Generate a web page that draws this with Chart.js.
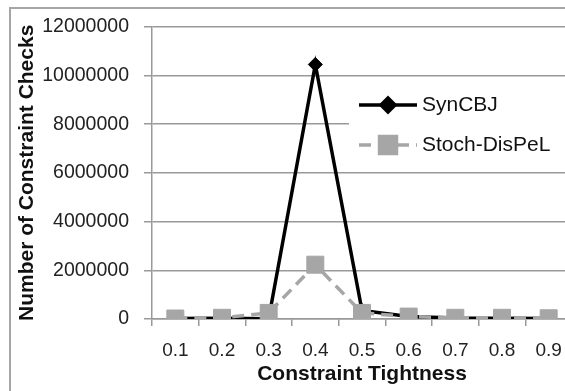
<!DOCTYPE html>
<html>
<head>
<meta charset="utf-8">
<script src="https://cdn.jsdelivr.net/npm/chart.js@4.4.1/dist/chart.umd.min.js"></script>
<style>
  html, body { margin: 0; padding: 0; background: #fff; overflow: hidden; }
  #wrap { position: relative; width: 600px; height: 391px; }
  #frame { position: absolute; left: 9px; top: 7px; width: 600px; height: 400px;
           border-left: 2px solid #a6a6a6; border-top: 2px solid #a6a6a6; }
  canvas { position: absolute; left: 0; top: 0; }
</style>
</head>
<body>
<div id="wrap">
  <div id="frame"></div>
  <canvas id="tightChart" width="600" height="391"></canvas>
</div>
<script>
const tightness = ['0.1', '0.2', '0.3', '0.4', '0.5', '0.6', '0.7', '0.8', '0.9'];
const synCBJ = [20000, 30000, 10000, 10450000, 350000, 100000, 40000, 30000, 20000];
const stochDisPeL = [20000, 50000, 250000, 2230000, 250000, 100000, 50000, 50000, 30000];
const yTicks = [0, 2000000, 4000000, 6000000, 8000000, 10000000, 12000000];

const FONT = "'Liberation Sans', Arial, sans-serif";

// legend drawn inside the plot, on a white box, like the original
const boxLegend = {
    id: 'boxLegend',
    afterDraw(chart) {
        const ctx = chart.ctx;
        ctx.save();
        ctx.fillStyle = '#fff';
        ctx.fillRect(349, 86, 260, 78);
        const rows = [105, 145];
        chart.data.datasets.forEach((ds, i) => {
            const y = rows[i];
            ctx.strokeStyle = ds.borderColor;
            ctx.lineWidth = ds.borderWidth;
            ctx.setLineDash(ds.borderDash || []);
            ctx.beginPath();
            ctx.moveTo(359, y);
            ctx.lineTo(417, y);
            ctx.stroke();
            ctx.setLineDash([]);
            Chart.helpers.drawPoint(ctx, {
                pointStyle: ds.pointStyle,
                radius: ds.pointRadius,
                borderWidth: 1,
                rotation: 0
            }, 388, y);
            ctx.fillStyle = ds.pointBackgroundColor;
            ctx.strokeStyle = ds.pointBorderColor;
            ctx.fill();
            ctx.fillStyle = '#111';
            ctx.font = '21px ' + FONT;
            ctx.textBaseline = 'middle';
            ctx.textAlign = 'left';
            ctx.fillText(ds.label, 422, y);
        });
        ctx.restore();
    }
};

new Chart(document.getElementById('tightChart'), {
    type: 'line',
    data: {
        labels: tightness,
        datasets: [
            {
                label: 'SynCBJ',
                data: synCBJ,
                borderColor: '#000',
                borderWidth: 3.5,
                pointStyle: 'rectRot',
                pointRadius: 7,
                pointBackgroundColor: '#000',
                pointBorderColor: '#000',
                pointBorderWidth: 1,
                tension: 0,
                order: 2
            },
            {
                label: 'Stoch-DisPeL',
                data: stochDisPeL,
                borderColor: '#a6a6a6',
                borderWidth: 3.5,
                borderDash: [12, 7],
                pointStyle: 'rect',
                pointRadius: 12,
                pointBackgroundColor: '#a6a6a6',
                pointBorderColor: '#a6a6a6',
                pointBorderWidth: 1,
                tension: 0,
                order: 1
            }
        ]
    },
    options: {
        responsive: false,
        animation: false,
        layout: { padding: { top: 20, right: 28, bottom: 0, left: 0 } },
        plugins: {
            legend: { display: false },
            tooltip: { enabled: false }
        },
        scales: {
            x: {
                offset: true,
                grid: { drawOnChartArea: false, drawTicks: true, tickLength: 7, color: '#999', lineWidth: 1.5, offset: true },
                border: { color: '#999', width: 1.5 },
                ticks: { color: '#222', font: { family: FONT, size: 19 }, padding: 13, maxRotation: 0 },
                title: {
                    display: true,
                    text: 'Constraint Tightness',
                    color: '#111',
                    font: { family: FONT, size: 21, weight: 'bold' },
                    padding: { top: 0, bottom: 4 }
                },
                afterFit(scale) { scale.height = 72; }
            },
            y: {
                min: 0,
                max: 12000000,
                afterBuildTicks(scale) { scale.ticks = yTicks.map(v => ({ value: v })); },
                grid: { color: '#999', lineWidth: 1.5, tickLength: 8 },
                border: { color: '#999', width: 1.5 },
                ticks: { color: '#222', font: { family: FONT, size: 19.5 }, padding: 15, callback: v => String(v) },
                title: {
                    display: true,
                    text: 'Number of Constraint Checks',
                    color: '#111',
                    font: { family: FONT, size: 21, weight: 'bold' },
                    padding: { top: 15, bottom: 0 }
                },
                afterFit(scale) { scale.width = 152; }
            }
        }
    },
    plugins: [boxLegend]
});
</script>
</body>
</html>
